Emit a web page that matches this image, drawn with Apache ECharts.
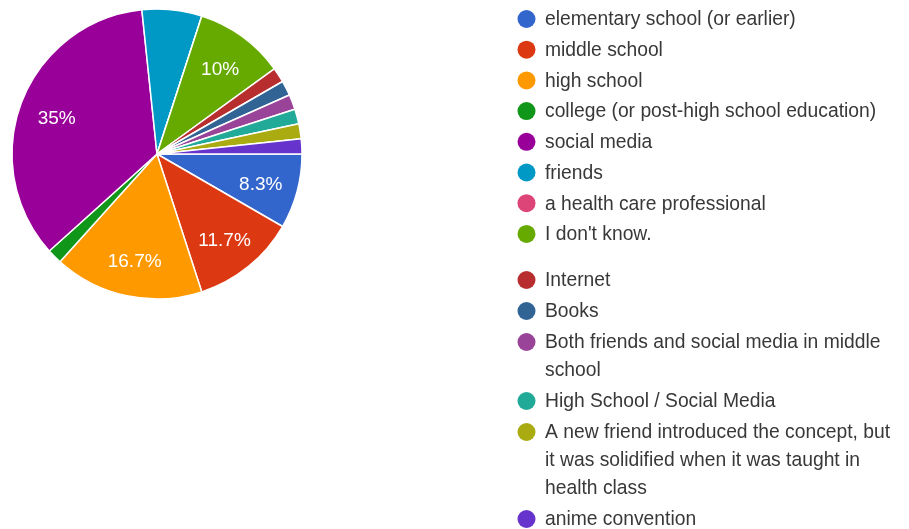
<!DOCTYPE html>
<html>
<head>
<meta charset="utf-8">
<title>Where respondents first learned the concept</title>
<script src="https://cdn.jsdelivr.net/npm/echarts@6/dist/echarts.min.js"></script>
<style>
  html, body { margin: 0; padding: 0; background: #ffffff; }
  #chart { width: 909px; height: 529px; }
</style>
</head>
<body>
<div id="chart"></div>
<script>
// Answer options, in the order the form lists them
const categories = [
  'elementary school (or earlier)',
  'middle school',
  'high school',
  'college (or post-high school education)',
  'social media',
  'friends',
  'a health care professional',
  "I don't know.",
  'Internet',
  'Books',
  'Both friends and social media in middle school',
  'High School / Social Media',
  'A new friend introduced the concept, but it was solidified when it was taught in health class',
  'anime convention'
];

// Number of responses for each option (60 in total)
const responses = [5, 7, 10, 1, 21, 4, 0, 6, 1, 1, 1, 1, 1, 1];

// Legend captions, wrapped the way they are shown
const legendCaptions = [
  ['elementary school (or earlier)'],
  ['middle school'],
  ['high school'],
  ['college (or post-high school education)'],
  ['social media'],
  ['friends'],
  ['a health care professional'],
  ["I don't know."],
  ['Internet'],
  ['Books'],
  ['Both friends and social media in middle', 'school'],
  ['High School / Social Media'],
  ['A new friend introduced the concept, but', 'it was solidified when it was taught in', 'health class'],
  ['anime convention']
];

const sliceColors = [
  '#3366cc', '#dc3912', '#ff9900', '#109618', '#990099', '#0099c6', '#dd4477',
  '#66aa00', '#b82e2e', '#316395', '#994499', '#22aa99', '#aaaa11', '#6633cc'
];

const FONT = '"Liberation Sans", Arial, Helvetica, sans-serif';
const CENTER = [157, 154];
const RADIUS = 145;

const total = responses.reduce((a, b) => a + b, 0);
// share of all answers, one decimal place
const shareText = v => (Math.round(v / total * 1000) / 10) + '%';

const pieData = categories.map((name, i) => ({
  name: name,
  value: responses[i],
  itemStyle: { color: sliceColors[i] }
}));

// Legend: the options are split into two groups stacked in the right column
const legendGroups = [
  { from: 0, to: 8, top: 19, step: 30.7 },
  { from: 8, to: 14, top: 280, step: 31 }
];
const LINE_H = 28;
const legendGraphics = [];
legendGroups.forEach(g => {
  let y = g.top;
  for (let i = g.from; i < g.to; i++) {
    legendGraphics.push({
      type: 'circle',
      shape: { cx: 526.5, cy: y, r: 9 },
      style: { fill: sliceColors[i] },
      silent: true
    });
    legendGraphics.push({
      type: 'text',
      x: 545,
      y: y - LINE_H / 2 + 1,
      style: {
        text: legendCaptions[i].join('\n'),
        font: '19.3px ' + FONT,
        fill: '#383838',
        lineHeight: LINE_H,
        verticalAlign: 'top',
        align: 'left'
      },
      silent: true
    });
    y += g.step + (legendCaptions[i].length - 1) * LINE_H;
  }
});

const chart = echarts.init(document.getElementById('chart'), null, { renderer: 'canvas' });
chart.setOption({
  backgroundColor: '#ffffff',
  animation: false,
  series: [
    {
      // the slices
      type: 'pie',
      center: CENTER,
      radius: RADIUS,
      startAngle: 0,
      clockwise: true,
      avoidLabelOverlap: false,
      silent: true,
      label: { show: false },
      labelLine: { show: false },
      itemStyle: { borderColor: '#ffffff', borderWidth: 1.5 },
      data: pieData
    },
    {
      // percentage labels, carried by a transparent ring so they sit farther out
      type: 'pie',
      center: CENTER,
      radius: [RADIUS * 0.44, RADIUS],
      startAngle: 0,
      clockwise: true,
      avoidLabelOverlap: false,
      silent: true,
      itemStyle: { color: 'rgba(0,0,0,0)', borderWidth: 0 },
      labelLine: { show: false },
      label: {
        show: true,
        position: 'inside',
        offset: [0, 3],
        color: '#ffffff',
        fontSize: 19,
        fontFamily: FONT,
        formatter: p => (p.value / total >= 0.075 ? shareText(p.value) : '')
      },
      data: categories.map((name, i) => ({ name: name, value: responses[i] }))
    }
  ],
  graphic: legendGraphics
});
</script>
</body>
</html>
